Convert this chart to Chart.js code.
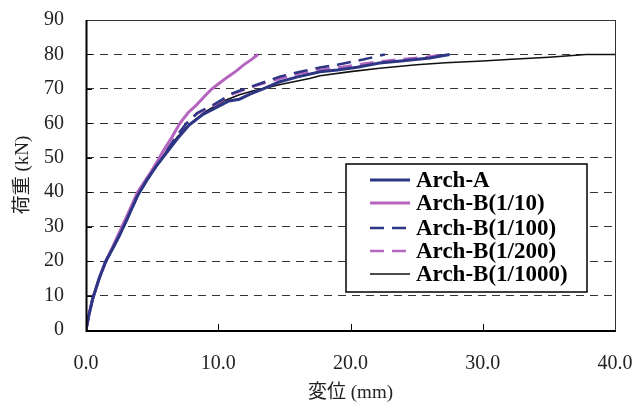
<!DOCTYPE html>
<html>
<head>
<meta charset="utf-8">
<script src="https://cdn.jsdelivr.net/npm/chart.js@4.4.1/dist/chart.umd.min.js"></script>
<style>
  html, body { margin: 0; padding: 0; background: #fff; }
</style>
</head>
<body>
<canvas id="chart" width="633" height="408"></canvas>
<script>
// ── Data (displacement mm / load kN) ─────────────────────────────

const seriesLabels = ["Arch-A", "Arch-B(1/10)", "Arch-B(1/100)", "Arch-B(1/200)", "Arch-B(1/1000)"];

const archA_x = [0, 0.2, 0.5, 1.0, 1.5, 2.0, 2.6, 3.2, 3.9, 4.6, 5.3, 6.0, 6.9, 7.8, 8.8, 9.8, 10.8, 11.6, 12.4, 13.4, 14.6, 16.0, 17.7, 19.0, 20.5, 22.2, 24.0, 26.0, 27.5];
const archA_y = [0, 4, 9, 15, 20, 23.5, 28, 33, 39, 43.5, 47.5, 51, 55.5, 59.5, 62.5, 64.5, 66.5, 67, 68.5, 70, 72, 73.5, 75, 75.5, 76.3, 77.5, 78.2, 79, 80];

const b10_x = [0, 0.2, 0.5, 1.0, 1.5, 2.0, 2.6, 3.2, 3.9, 4.5, 4.85, 5.4, 5.85, 6.5, 7.1, 7.7, 8.4, 9.0, 9.5, 10.1, 10.8, 11.4, 11.9, 12.5, 13.0];
const b10_y = [0, 4, 9, 15, 20, 24, 29, 34, 40, 43.5, 45.5, 49, 52, 56, 60, 63, 65.5, 68, 69.9, 71.7, 73.7, 75.3, 76.9, 78.5, 80];

const b100_x = [0, 0.2, 0.5, 1.0, 1.5, 2.0, 2.6, 3.2, 3.9, 4.6, 5.3, 6.0, 6.8, 7.6, 8.4, 9.6, 11.1, 12.9, 14.7, 16.2, 17.7, 19.0, 20.3, 21.5, 22.6];
const b100_y = [0, 4, 9, 15, 20, 23.5, 28, 33, 39, 43.5, 47.5, 51.5, 56, 60, 63, 65.3, 68.8, 71.2, 73.6, 75, 76.2, 77, 78, 79, 80];

const b200_x = [0, 0.2, 0.5, 1.0, 1.5, 2.0, 2.6, 3.2, 3.9, 4.6, 5.3, 6.0, 6.8, 7.6, 8.4, 9.6, 11.1, 12.9, 14.7, 16.2, 17.7, 19.0, 20.3, 22.2, 24.0, 25.8, 27.2];
const b200_y = [0, 4, 9, 15, 20, 23.5, 28, 33, 39, 43.5, 47.5, 51.5, 56, 60, 62.8, 65, 68.5, 71, 73, 74.5, 75.5, 76.2, 76.9, 78, 78.7, 79.3, 80];

const b1000_x = [0, 0.2, 0.5, 1.0, 1.5, 2.0, 2.6, 3.2, 3.9, 4.6, 5.3, 6.0, 6.9, 7.9, 9.0, 10.4, 11.6, 12.6, 14.7, 16.9, 17.7, 20.0, 22.2, 25.0, 27.2, 30.0, 32.2, 35.0, 37.8, 40.0];
const b1000_y = [0, 4, 9, 15, 20, 23.5, 28, 33, 39, 43.5, 47.5, 51.5, 56, 60, 63.3, 66.5, 68.3, 69.4, 71.3, 73, 73.8, 75, 76, 77, 77.6, 78.1, 78.6, 79.2, 80, 80];

const xTicks = [0, 10, 20, 30, 40];
const yTicks = [0, 10, 20, 30, 40, 50, 60, 70, 80, 90];

// ── Styling ──────────────────────────────────────────────────────

const NAVY = "#2D3585";
const ORCHID = "#B565BF";
const SERIF = "'Liberation Serif', 'Times New Roman', serif";
const TITLE_FONT = "'Liberation Serif', 'Noto Sans CJK JP', serif";

function toPoints(xs, ys) {
  return xs.map((x, i) => ({ x: x, y: ys[i] }));
}

const datasets = [
  { label: seriesLabels[0], data: toPoints(archA_x, archA_y), borderColor: NAVY, borderWidth: 3 },
  { label: seriesLabels[1], data: toPoints(b10_x, b10_y), borderColor: ORCHID, borderWidth: 3 },
  { label: seriesLabels[2], data: toPoints(b100_x, b100_y), borderColor: NAVY, borderWidth: 2.5, borderDash: [14, 8] },
  { label: seriesLabels[3], data: toPoints(b200_x, b200_y), borderColor: ORCHID, borderWidth: 2.5, borderDash: [14, 8] },
  { label: seriesLabels[4], data: toPoints(b1000_x, b1000_y), borderColor: "#111", borderWidth: 1.6 },
].map((d) => Object.assign(d, { showLine: true, pointRadius: 0, tension: 0, fill: false }));

// keep the plot box fixed: drop the extra padding Chart.js reserves for tick labels
function pinScale(scale, size) {
  if (scale.isHorizontal()) scale.height = size;
  else scale.width = size;
  scale.paddingTop = 0;
  scale.paddingBottom = 0;
  scale.paddingLeft = 0;
  scale.paddingRight = 0;
}

// frame, inward ticks and the boxed legend
const framePlugin = {
  id: "framePlugin",
  afterDatasetsDraw(chart) {
    const { ctx, chartArea: a, scales } = chart;
    ctx.save();

    // inner tick marks
    ctx.strokeStyle = "#000";
    ctx.lineWidth = 1;
    ctx.beginPath();
    xTicks.slice(1, -1).forEach((v) => {
      const px = Math.round(scales.x.getPixelForValue(v)) + 0.5;
      ctx.moveTo(px, a.bottom);
      ctx.lineTo(px, a.bottom - 6);
    });
    yTicks.slice(1, -1).forEach((v) => {
      const py = Math.round(scales.y.getPixelForValue(v)) + 0.5;
      ctx.moveTo(a.left, py);
      ctx.lineTo(a.left + 6, py);
    });
    ctx.stroke();

    // box around plot
    ctx.lineWidth = 1;
    ctx.strokeStyle = "#333";
    ctx.strokeRect(a.left + 0.5, a.top + 0.5, a.right - a.left, a.bottom - a.top);
    ctx.strokeStyle = "#000";
    ctx.lineWidth = 2;
    ctx.beginPath();
    ctx.moveTo(a.left + 0.5, a.top);
    ctx.lineTo(a.left + 0.5, a.bottom + 1);
    ctx.lineTo(a.right + 1, a.bottom + 1);
    ctx.stroke();

    // legend
    const box = { x: 346, y: 164, w: 241, h: 128 };
    ctx.fillStyle = "#fff";
    ctx.fillRect(box.x, box.y, box.w, box.h);
    ctx.strokeStyle = "#000";
    ctx.lineWidth = 1.5;
    ctx.strokeRect(box.x, box.y, box.w, box.h);

    const rows = [180, 203, 228, 251, 274];
    ctx.font = "bold 23px " + SERIF;
    ctx.textBaseline = "middle";
    ctx.textAlign = "left";
    chart.data.datasets.forEach((d, i) => {
      ctx.strokeStyle = d.borderColor;
      ctx.lineWidth = d.borderWidth;
      ctx.setLineDash(d.borderDash || []);
      ctx.beginPath();
      ctx.moveTo(370, rows[i]);
      ctx.lineTo(410, rows[i]);
      ctx.stroke();
      ctx.setLineDash([]);
      ctx.fillStyle = "#000";
      ctx.fillText(d.label, 416, rows[i] + 1);
    });
    ctx.restore();
  },
};

new Chart(document.getElementById("chart"), {
  type: "scatter",
  data: { datasets: datasets },
  options: {
    responsive: false,
    devicePixelRatio: 1,
    animation: false,
    layout: { padding: { left: 0, top: 20, right: 18, bottom: 0 } },
    plugins: {
      legend: { display: false },
      tooltip: { enabled: false },
    },
    scales: {
      x: {
        type: "linear",
        min: 0,
        max: 40,
        afterBuildTicks: (scale) => { scale.ticks = xTicks.map((v) => ({ value: v })); },
        afterFit: (scale) => pinScale(scale, 78),
        ticks: {
          padding: 22,
          maxRotation: 0,
          color: "#222",
          font: { family: SERIF, size: 20 },
          callback: (v) => v.toFixed(1),
        },
        grid: { display: false, drawTicks: false },
        border: { display: false },
        title: {
          display: true,
          text: "変位 (mm)",
          color: "#222",
          font: { family: TITLE_FONT, size: 19 },
          padding: { top: 0, bottom: 4 },
        },
      },
      y: {
        type: "linear",
        min: 0,
        max: 90,
        afterBuildTicks: (scale) => { scale.ticks = yTicks.map((v) => ({ value: v })); },
        afterFit: (scale) => pinScale(scale, 86),
        ticks: {
          padding: 22,
          color: "#222",
          font: { family: SERIF, size: 20 },
        },
        grid: {
          drawTicks: false,
          lineWidth: 1,
          color: (c) => (c.tick && (c.tick.value === 0 || c.tick.value === 90) ? "rgba(0,0,0,0)" : "#333"),
        },
        border: { display: false, dash: [8, 6] },
        title: {
          display: true,
          text: "荷重 (kN)",
          color: "#222",
          font: { family: TITLE_FONT, size: 19 },
          padding: { top: 12, bottom: 0 },
        },
      },
    },
  },
  plugins: [framePlugin],
});
</script>
</body>
</html>
